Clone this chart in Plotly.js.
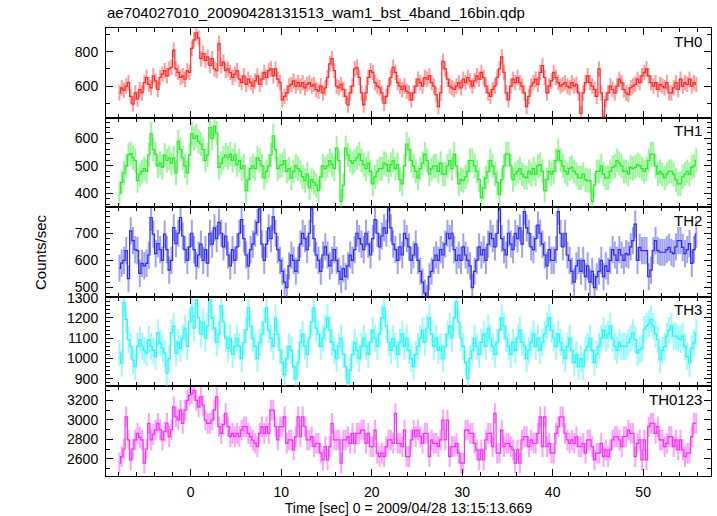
<!DOCTYPE html>
<html>
<head>
<meta charset="utf-8">
<script src="https://cdn.plot.ly/plotly-3.0.1.min.js"></script>
<style>html,body{margin:0;padding:0;background:#fff;}#plot{width:717px;height:516px;}</style>
</head>
<body>
<div id="plot"></div>
<script>
// Time grid: 0.25 s bins, first bin centre and bin width
const binStart = -7.875;
const binWidth = 0.25;

// Counts/sec per band (4 bins per second, seconds -8 .. 55)
const th0 = [
560,590,575,600, 620,540,495,560, 525,580,560,620, 650,610,590,660,
630,580,650,670, 690,660,700,710, 810,700,680,650, 660,640,690,680,
820,870,910,880, 760,790,750,770, 720,760,700,690, 850,720,740,690,
700,680,650,670, 690,640,620,660, 610,640,620,600, 630,660,610,640,
680,650,690,700, 660,700,640,620, 520,540,560,600, 610,630,600,620,
600,620,590,610, 620,600,610,580, 570,600,560,590, 650,730,760,690,
600,590,610,580, 540,490,560,600, 700,710,650,560, 490,560,650,690,
680,620,600,590, 560,500,540,600, 650,710,680,620, 600,580,600,570,
560,520,560,600, 640,620,600,650, 640,660,620,600, 550,480,560,745,
700,640,600,590, 580,600,620,590, 640,620,650,630, 600,630,660,640,
680,650,600,560, 540,580,600,650, 700,770,680,560, 520,600,640,620,
650,620,600,560, 480,540,600,620, 640,610,680,720, 650,560,600,630,
680,650,620,600, 610,620,600,590, 620,600,610,560, 440,560,620,660,
620,600,580,540, 700,560,420,520, 560,600,580,560, 600,640,620,580,
560,550,590,600, 610,640,620,660, 680,700,660,620, 600,620,580,610,
600,590,620,560, 560,590,620,580, 640,600,620,610, 640,600,620,610
];
const th1 = [
400,440,475,500, 540,545,530,520, 447,470,480,490, 480,540,617,560,
543,500,510,495, 540,520,530,510, 530,475,590,560, 530,500,475,540,
617,600,610,590, 580,560,520,540, 640,600,645,620, 495,510,530,540,
530,543,520,540, 505,520,490,500, 410,450,490,500, 490,530,520,500,
457,480,500,540, 610,560,490,500, 505,520,480,490, 457,480,500,490,
480,460,447,470, 420,450,440,430, 410,460,500,490, 500,520,505,490,
565,520,370,430, 565,540,520,510, 520,530,543,520, 505,490,510,480,
435,460,480,490, 490,510,505,480, 505,520,490,505, 450,435,500,580,
560,520,500,480, 457,490,510,543, 520,470,490,500, 500,480,510,470,
470,500,520,490, 543,500,435,450, 447,460,480,520, 520,500,480,450,
385,420,457,480, 520,500,470,440, 396,450,500,543, 543,500,450,470,
480,490,470,460, 457,480,470,490, 470,500,505,480, 410,450,480,470,
480,520,555,520, 500,480,470,490, 495,480,470,457, 457,470,450,447,
447,370,430,480, 480,500,470,457, 457,480,495,500, 520,510,500,480,
480,470,495,490, 495,505,500,490, 480,490,520,543, 543,500,470,480,
470,457,470,480, 480,470,450,435, 435,460,470,480, 470,495,500,520
];
const th2 = [
571,590,600,636, 533,709,673,640, 636,552,589,580, 589,620,758,697,
625,662,640,600, 697,640,564,600, 721,662,700,758, 690,640,600,650,
700,640,580,620, 660,600,640,590, 700,660,720,680, 740,700,650,690,
620,580,640,600, 650,700,750,680, 620,580,640,660, 700,740,790,660,
600,660,720,680, 760,700,640,600, 560,520,500,580, 620,600,560,600,
660,700,680,640, 700,790,680,620, 600,560,620,650, 620,580,600,640,
600,560,530,570, 540,580,620,600, 640,700,680,660, 640,700,660,620,
680,750,700,650, 690,720,700,790, 720,660,640,600, 650,620,700,680,
650,600,620,660, 600,560,520,480, 460,540,560,600, 620,600,640,620,
660,700,680,700, 640,600,620,600, 650,620,600,580, 500,560,600,650,
620,640,600,660, 700,680,650,700, 790,680,640,620, 700,660,640,700,
680,720,660,780, 720,700,650,640, 680,730,700,660, 620,580,640,600,
600,640,780,700, 650,700,620,600, 560,520,580,600, 560,600,540,580,
520,560,500,540, 560,600,540,580, 560,600,640,620, 600,640,620,600,
625,620,650,673, 734,600,648,636, 636,636,540,564, 636,673,636,630,
630,630,640,648, 630,625,650,673, 673,648,625,640, 662,589,640,697
];
const th3 = [
1027,977,1277,1193, 1093,1060,993,960, 1060,1093,1060,1040, 1027,1093,1060,1040,
1010,1127,1077,1050, 1027,928,1000,1127, 1160,1027,1080,1050, 1100,1150,1060,1180,
1250,1150,1290,1200, 1120,1180,1100,1160, 1290,1200,1150,1080, 1120,1260,1180,1100,
1050,1100,1020,1060, 1100,1060,1000,1080, 1140,1250,1160,1100, 1060,1000,1080,1120,
1180,1250,1140,1100, 1060,1200,1120,1040, 980,920,1000,1060, 1040,960,900,980,
1080,1120,1060,1020, 1100,1180,1250,1150, 1120,1060,1100,1150, 1200,1140,1080,1040,
1000,1060,1100,1020, 960,880,940,1020, 1080,1040,1000,1060, 1100,1060,1020,1080,
1140,1100,1060,1120, 1200,1250,1160,1080, 1040,1100,1060,1020, 1080,1120,1060,1100,
1040,1000,960,1020, 1060,1100,1140,1080, 1150,1200,1120,1060, 1100,1040,1060,1000,
1060,1120,1160,1100, 1200,1280,1180,1100, 1060,980,900,1000, 1040,1100,1060,1020,
1080,1120,1060,1150, 1100,1060,1020,1080, 1140,1200,1160,1100, 1060,1020,1080,1040,
1100,1140,1080,1060, 1000,1040,1080,1120, 1060,1100,1040,1080, 1120,1160,1200,1140,
1100,1060,1120,1080, 1040,1000,1060,1100, 1040,980,1020,960, 1000,960,1040,1060,
1100,1040,980,1020, 1060,1100,1140,1100, 1120,1160,1100,1060, 1040,1080,1060,1060,
1060,1080,1100,1127, 1093,1027,1043,1050, 1143,1160,1170,1193, 1160,1120,1093,993,
1040,1060,1110,1140, 1160,1110,1110,1100, 1093,1110,1060,1010, 977,1050,1077,1127
];
const th0123 = [
2555,2622,2700,3030, 2793,2589,2700,2793, 2861,2820,2793,2555, 2700,2963,2793,2850,
2895,2963,2900,2793, 2880,2963,2827,2900, 3133,3030,3000,3100, 2963,3100,3200,3250,
3269,3303,3200,3133, 3235,3150,2997,2963, 2963,2997,3100,3235, 2929,2861,2950,3065,
2929,2827,2861,2827, 2861,2827,2895,2929, 2929,2861,2827,2790, 2759,2725,2861,2929,
2861,2929,2861,3100, 3100,2929,2793,2929, 2929,3030,2759,2793, 2793,2691,2827,3030,
2827,3030,2929,2793, 2793,2827,2725,2759, 2759,2657,2589,2725, 2589,2725,2963,2793,
2793,2793,2555,2793, 2793,2827,2759,2861, 2759,2861,2861,2895, 2895,2759,2861,2725,
2725,2895,2657,2622, 2657,2622,2725,2793, 2793,2759,3065,2759, 2759,2725,2895,2622,
2622,2793,2895,2827, 2895,2827,2759,2861, 2861,2622,2793,2759, 2759,2725,2793,2997,
2793,2997,2622,2725, 2725,2759,2657,2555, 2555,2895,2895,2861, 2861,2759,2691,2589,
2691,2589,2793,2861, 2861,2725,3065,2657, 2657,2895,2725,2759, 2759,2725,2691,2555,
2691,2555,2793,2827, 2827,2725,2793,2759, 2759,2861,3030,2725, 3030,2725,2759,2657,
2657,2861,2929,3030, 3030,2861,2793,2759, 2793,2759,2827,2725, 2725,2759,2657,2793,
2793,2725,2589,2657, 2657,2759,2622,2691, 2622,2691,2793,2827, 2827,2793,2725,2827,
2827,2895,2861,2861, 2622,2759,2793,2589, 2793,2589,2929,2963, 2963,2861,2929,2793,
2793,2725,2759,2827, 2827,2725,2793,2691, 2793,2691,2622,2657, 2657,2827,2963,2963
];

const bandNames = ["TH0", "TH1", "TH2", "TH3", "TH0123"];
const bandValues = [th0, th1, th2, th3, th0123];
const bandErrors = [45, 44, 50, 66, 106];
const lineColors = ["rgb(255,40,40)", "rgb(40,235,40)", "rgb(45,45,235)", "rgb(40,245,245)", "rgb(250,45,250)"];
const errColors = ["rgba(255,60,60,0.5)", "rgba(60,235,60,0.5)", "rgba(70,70,235,0.5)", "rgba(60,245,245,0.5)", "rgba(250,70,250,0.5)"];
const yRanges = [[416, 939], [350, 676], [466, 796], [863, 1304], [2423, 3343]];
const yMajor = [200, 100, 100, 100, 200];
const yMinor = [100, 20, 20, 20, 100];
const xRange = [-9.36, 57.5];

const time = th0.map((_, i) => binStart + binWidth * i);

const fontFam = '"Liberation Sans", Arial, Helvetica, sans-serif';
const traces = [];
const layout = {
  width: 717, height: 516,
  margin: {l: 106, r: 6, t: 28, b: 40},
  paper_bgcolor: "#fff", plot_bgcolor: "#fff",
  showlegend: false,
  font: {family: fontFam, size: 14, color: "#000"},
  title: {text: "ae704027010_20090428131513_wam1_bst_4band_16bin.qdp",
          x: 107/717, xanchor: "left", xref: "container",
          y: 1 - 13/516, yanchor: "middle", yref: "container",
          font: {family: fontFam, size: 15, color: "#000"}},
  annotations: []
};

for (let b = 0; b < 5; b++) {
  const idx = 5 - b;
  const ax = idx === 1 ? "" : String(idx);
  const d0 = (idx - 1) * 0.2, d1 = idx * 0.2;
  traces.push({
    type: "scatter", mode: "lines",
    x: time, y: bandValues[b],
    xaxis: "x" + ax, yaxis: "y" + ax,
    line: {color: lineColors[b], width: 1.2, shape: "hvh"},
    error_y: {type: "constant", value: bandErrors[b], color: errColors[b], thickness: 2, width: 0},
    hoverinfo: "skip"
  });
  layout["xaxis" + ax] = {
    domain: [0, 1], anchor: "y" + ax, range: xRange,
    showline: true, linecolor: "#000", linewidth: 1, mirror: "ticks",
    ticks: "inside", ticklen: 7, tickcolor: "#000", tickwidth: 1, dtick: 10, tick0: 0,
    minor: {dtick: 2, tick0: 0, ticklen: 4, ticks: "inside", tickcolor: "#000", tickwidth: 1},
    showgrid: false, zeroline: false,
    showticklabels: idx === 1,
    ticklabelstandoff: 3,
    tickfont: {family: fontFam, size: 14, color: "#000"},
    title: idx === 1 ? {text: "Time [sec] 0 = 2009/04/28 13:15:13.669", standoff: 6,
                        font: {family: fontFam, size: 14, color: "#000"}} : {text: ""}
  };
  layout["yaxis" + ax] = {
    domain: [d0, d1], anchor: "x" + ax, range: yRanges[b],
    showline: true, linecolor: "#000", linewidth: 1, mirror: "ticks",
    ticks: "inside", ticklen: 7, tickcolor: "#000", tickwidth: 1, dtick: yMajor[b], tick0: 0,
    minor: {dtick: yMinor[b], tick0: 0, ticklen: 4, ticks: "inside", tickcolor: "#000", tickwidth: 1},
    showgrid: false, zeroline: false,
    tickfont: {family: fontFam, size: 14, color: "#000"},
    ticklabelstandoff: 4
  };
  layout.annotations.push({
    text: bandNames[b], xref: "paper", yref: "paper",
    x: 0.988, xanchor: "right", y: d1 - 0.006, yanchor: "top",
    showarrow: false, font: {family: fontFam, size: 15, color: "#000"}
  });
}
layout.annotations.push({
  text: "Counts/sec", xref: "paper", yref: "paper",
  x: (40 - 106) / 605, y: 0.5, xanchor: "center", yanchor: "middle",
  textangle: -90, showarrow: false, font: {family: fontFam, size: 15, color: "#000"}
});

Plotly.newPlot("plot", traces, layout, {staticPlot: true, displayModeBar: false});
</script>
</body>
</html>
